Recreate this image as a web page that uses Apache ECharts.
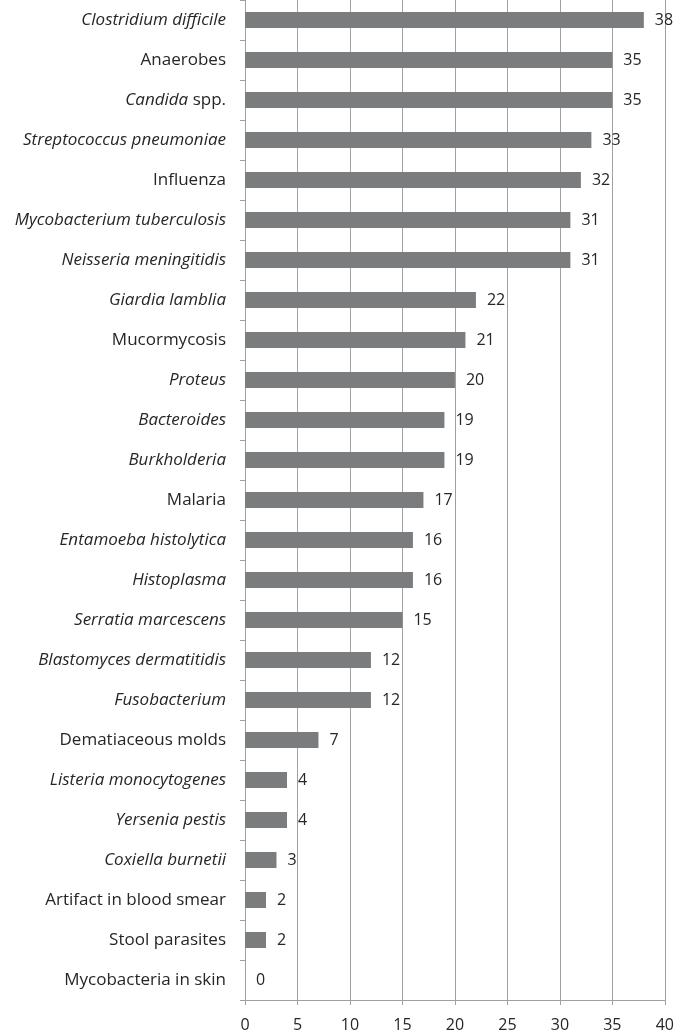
<!DOCTYPE html>
<html>
<head>
<meta charset="utf-8">
<script src="https://cdn.jsdelivr.net/npm/echarts@6/dist/echarts.min.js"></script>
<style>
  html, body { margin: 0; padding: 0; background: #fff; }
  #chart { width: 677px; height: 1035px; }
</style>
</head>
<body>
<div id="chart"></div>
<script>
// categories, top to bottom
const categories = [
  'Clostridium difficile', 'Anaerobes', 'Candida spp.', 'Streptococcus pneumoniae',
  'Influenza', 'Mycobacterium tuberculosis', 'Neisseria meningitidis', 'Giardia lamblia',
  'Mucormycosis', 'Proteus', 'Bacteroides', 'Burkholderia', 'Malaria',
  'Entamoeba histolytica', 'Histoplasma', 'Serratia marcescens', 'Blastomyces dermatitidis',
  'Fusobacterium', 'Dematiaceous molds', 'Listeria monocytogenes', 'Yersenia pestis',
  'Coxiella burnetii', 'Artifact in blood smear', 'Stool parasites', 'Mycobacteria in skin'
]
const values = [38, 35, 35, 33, 32, 31, 31, 22, 21, 20, 19, 19, 17, 16, 16, 15, 12, 12, 7, 4, 4, 3, 2, 2, 0]
// names that are not set in italics
const plainNames = ['Anaerobes', 'Influenza', 'Mucormycosis', 'Malaria', 'Dematiaceous molds',
  'Artifact in blood smear', 'Stool parasites', 'Mycobacteria in skin']
const xTicks = [0, 5, 10, 15, 20, 25, 30, 35, 40]

const font = 'Open Sans'
const textColor = '#262626'
const chart = echarts.init(document.getElementById('chart'))

chart.setOption({
  backgroundColor: '#fff',
  animation: false,
  grid: { left: 245, right: 10, top: 0, bottom: 35 },
  xAxis: {
    type: 'value',
    min: xTicks[0],
    max: xTicks[xTicks.length - 1],
    interval: 5,
    axisLine: { show: true, lineStyle: { color: '#a0a0a0', width: 1 } },
    axisTick: { show: true, length: 5, lineStyle: { color: '#a0a0a0' } },
    axisLabel: { color: textColor, fontFamily: font, fontSize: 16, margin: 17 },
    splitLine: { show: true, lineStyle: { color: '#a0a0a0', width: 1 } }
  },
  yAxis: {
    type: 'category',
    data: categories,
    inverse: true,
    axisLine: { show: true, lineStyle: { color: '#a0a0a0', width: 1 } },
    axisTick: { show: true, length: 5, lineStyle: { color: '#a0a0a0' } },
    axisLabel: {
      margin: 19,
      color: textColor,
      fontFamily: font,
      fontSize: 17,
      formatter: (name) => {
        if (name === 'Candida spp.') return '{i|Candida} {n|spp.}'
        return plainNames.includes(name) ? '{n|' + name + '}' : '{i|' + name + '}'
      },
      rich: {
        i: { fontStyle: 'italic', fontFamily: font, fontSize: 17, color: textColor },
        n: { fontFamily: font, fontSize: 17, color: textColor }
      }
    }
  },
  series: [{
    type: 'bar',
    data: values,
    barWidth: 16,
    itemStyle: { color: '#7b7c7e' },
    label: {
      show: true,
      position: 'right',
      distance: 11,
      color: textColor,
      fontFamily: font,
      fontSize: 16
    }
  }]
})
</script>
</body>
</html>
